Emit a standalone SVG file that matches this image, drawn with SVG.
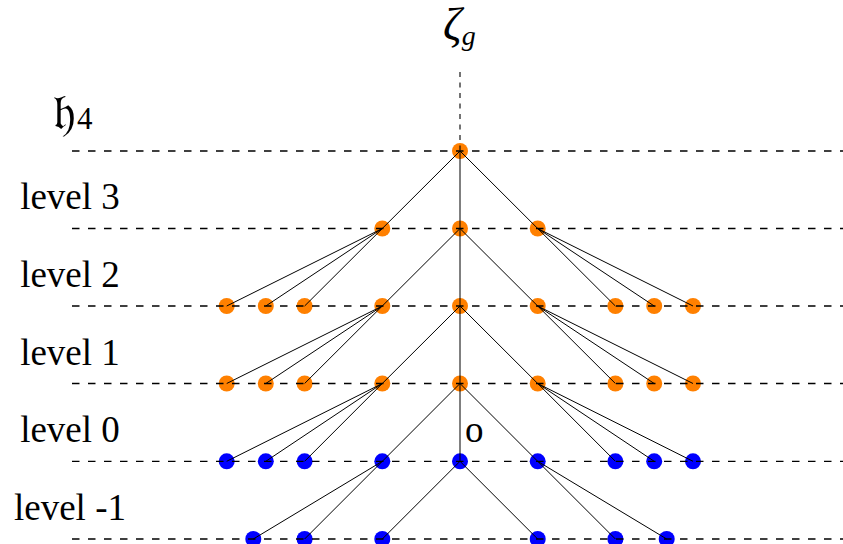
<svg xmlns="http://www.w3.org/2000/svg" width="843" height="544" viewBox="0 0 843 544">
<style>
.lbl{font-family:'Liberation Serif','Tinos','DejaVu Serif',serif;font-size:37px;fill:#000}
.it{font-family:'Liberation Serif','Tinos','DejaVu Serif',serif;font-style:italic;fill:#000}
.frak{font-family:'DejaVu Serif','Noto Sans','Liberation Serif',serif;fill:#000}
.sub{font-family:'Liberation Serif','Tinos','DejaVu Serif',serif;font-size:31px;font-style:normal}
.hl{stroke:#000;stroke-width:1.3;stroke-dasharray:7.5 8.5;fill:none}
.vl{stroke:#000;stroke-width:1.1;stroke-dasharray:5 5.5;fill:none}
.e{stroke:#000;stroke-width:1;fill:none}
.o{fill:#FF8000}
.b{fill:#0000FF}
</style>
<rect width="843" height="544" fill="#fff"/>
<g id="nodes">
<g id="n4-0"><circle class="o" cx="460" cy="151" r="8"/></g>
<g id="n3-d"><circle class="o" cx="382.3" cy="228.5" r="8"/></g>
<g id="n3-e"><circle class="o" cx="460" cy="228.5" r="8"/></g>
<g id="n3-f"><circle class="o" cx="537.7" cy="228.5" r="8"/></g>
<g id="n2-a"><circle class="o" cx="226.7" cy="306" r="8"/></g>
<g id="n2-b"><circle class="o" cx="265.8" cy="306" r="8"/></g>
<g id="n2-c"><circle class="o" cx="304.6" cy="306" r="8"/></g>
<g id="n2-d"><circle class="o" cx="382.3" cy="306" r="8"/></g>
<g id="n2-e"><circle class="o" cx="460" cy="306" r="8"/></g>
<g id="n2-f"><circle class="o" cx="537.7" cy="306" r="8"/></g>
<g id="n2-g"><circle class="o" cx="615.4" cy="306" r="8"/></g>
<g id="n2-h"><circle class="o" cx="654.2" cy="306" r="8"/></g>
<g id="n2-i"><circle class="o" cx="693" cy="306" r="8"/></g>
<g id="n1-a"><circle class="o" cx="226.7" cy="383.5" r="8"/></g>
<g id="n1-b"><circle class="o" cx="265.8" cy="383.5" r="8"/></g>
<g id="n1-c"><circle class="o" cx="304.6" cy="383.5" r="8"/></g>
<g id="n1-d"><circle class="o" cx="382.3" cy="383.5" r="8"/></g>
<g id="n1-e"><circle class="o" cx="460" cy="383.5" r="8"/></g>
<g id="n1-f"><circle class="o" cx="537.7" cy="383.5" r="8"/></g>
<g id="n1-g"><circle class="o" cx="615.4" cy="383.5" r="8"/></g>
<g id="n1-h"><circle class="o" cx="654.2" cy="383.5" r="8"/></g>
<g id="n1-i"><circle class="o" cx="693" cy="383.5" r="8"/></g>
<g id="n0-a"><circle class="b" cx="226.7" cy="461.3" r="8"/></g>
<g id="n0-b"><circle class="b" cx="265.8" cy="461.3" r="8"/></g>
<g id="n0-c"><circle class="b" cx="304.6" cy="461.3" r="8"/></g>
<g id="n0-d"><circle class="b" cx="382.3" cy="461.3" r="8"/></g>
<g id="n0-e"><circle class="b" cx="460" cy="461.3" r="8"/></g>
<g id="n0-f"><circle class="b" cx="537.7" cy="461.3" r="8"/></g>
<g id="n0-g"><circle class="b" cx="615.4" cy="461.3" r="8"/></g>
<g id="n0-h"><circle class="b" cx="654.2" cy="461.3" r="8"/></g>
<g id="n0-i"><circle class="b" cx="693" cy="461.3" r="8"/></g>
<g id="nm-1"><circle class="b" cx="253.3" cy="539" r="8"/></g>
<g id="nm-2"><circle class="b" cx="304.6" cy="539" r="8"/></g>
<g id="nm-3"><circle class="b" cx="382.3" cy="539" r="8"/></g>
<g id="nm-4"><circle class="b" cx="537.7" cy="539" r="8"/></g>
<g id="nm-5"><circle class="b" cx="615.4" cy="539" r="8"/></g>
<g id="nm-6"><circle class="b" cx="666.7" cy="539" r="8"/></g>
</g>
<g id="levels">
<line class="hl" x1="72" y1="151" x2="843" y2="151"/>
<line class="hl" x1="72" y1="228.5" x2="843" y2="228.5"/>
<line class="hl" x1="72" y1="306" x2="843" y2="306"/>
<line class="hl" x1="72" y1="383.5" x2="843" y2="383.5"/>
<line class="hl" x1="72" y1="461.3" x2="843" y2="461.3"/>
<line class="hl" x1="72" y1="539" x2="843" y2="539"/>
<line class="vl" x1="460" y1="72" x2="460" y2="151"/>
</g>
<g id="connectors">
<path class="e" d="M460 151L382.3 228.5M460 151L460 228.5M460 151L537.7 228.5"/>
<path class="e" d="M382.3 228.5L226.7 306M382.3 228.5L265.8 306M382.3 228.5L304.6 306M460 228.5L382.3 306M460 228.5L460 306M460 228.5L537.7 306M537.7 228.5L615.4 306M537.7 228.5L654.2 306M537.7 228.5L693 306"/>
<path class="e" d="M382.3 306L226.7 383.5M382.3 306L265.8 383.5M382.3 306L304.6 383.5M460 306L382.3 383.5M460 306L460 383.5M460 306L537.7 383.5M537.7 306L615.4 383.5M537.7 306L654.2 383.5M537.7 306L693 383.5"/>
<path class="e" d="M382.3 383.5L226.7 461.3M382.3 383.5L265.8 461.3M382.3 383.5L304.6 461.3M460 383.5L382.3 461.3M460 383.5L460 461.3M460 383.5L537.7 461.3M537.7 383.5L615.4 461.3M537.7 383.5L654.2 461.3M537.7 383.5L693 461.3"/>
<path class="e" d="M382.3 461.3L253.3 539M382.3 461.3L304.6 539M460 461.3L382.3 539M460 461.3L537.7 539M537.7 461.3L615.4 539M537.7 461.3L666.7 539"/>
</g>
<g id="labels">
<text x="443" y="40" class="it" font-size="46">ζ<tspan font-size="28" dy="5">g</tspan></text>
<text x="53" y="129" class="frak" font-size="50">𝔥<tspan class="sub" dx="1">4</tspan></text>
<text x="70" y="209.3" class="lbl" text-anchor="middle">level 3</text>
<text x="70" y="287" class="lbl" text-anchor="middle">level 2</text>
<text x="70" y="364.7" class="lbl" text-anchor="middle">level 1</text>
<text x="70" y="442.3" class="lbl" text-anchor="middle">level 0</text>
<text x="70" y="520" class="lbl" text-anchor="middle">level -1</text>
<text x="465" y="441.7" class="lbl">o</text>
</g>
</svg>
